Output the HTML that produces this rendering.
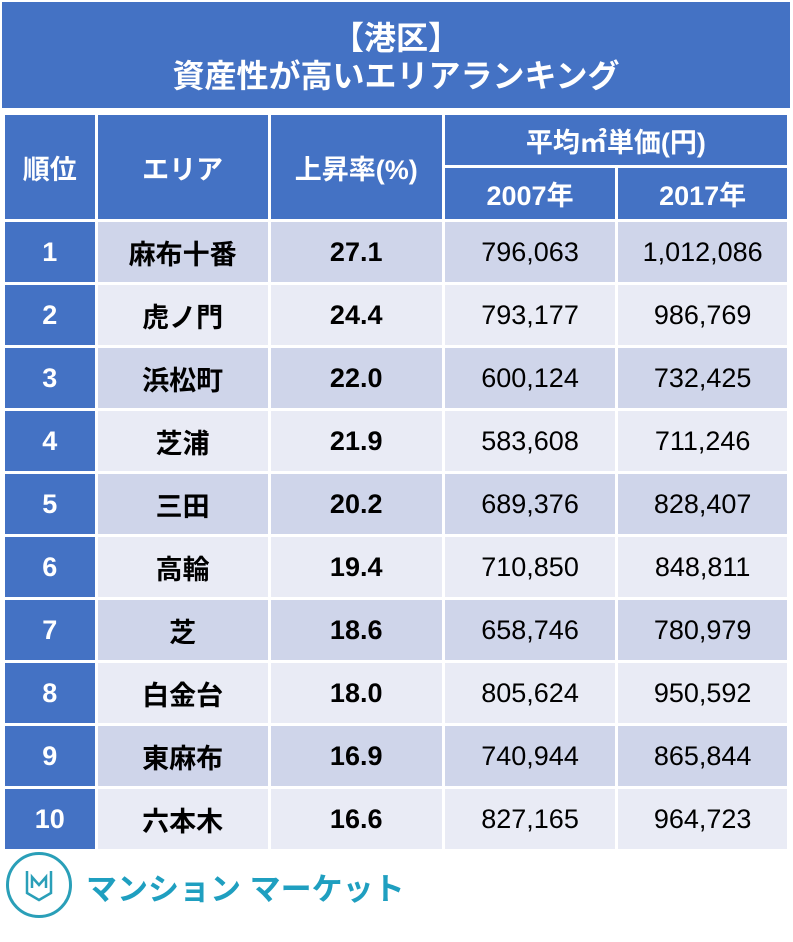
<!DOCTYPE html>
<html><head><meta charset="utf-8"><style>
body{margin:0;width:793px;height:942px;background:#fff;font-family:"Liberation Sans","Noto Sans CJK JP",sans-serif;position:relative;overflow:hidden}
.title{position:absolute;left:2px;top:2px;width:788px;height:106px;background:#4472c4;color:#fff;text-align:center;font-weight:bold;font-size:32px;line-height:38px;padding-top:17px;box-sizing:border-box}
table{position:absolute;left:2px;top:112px;border-collapse:collapse;width:788px}
td{border:3px solid #fff;text-align:center;font-size:27px;padding:0}
.h{background:#4472c4;color:#fff;font-weight:bold}
.r td{height:60px}
.r td.n{background:#4472c4;color:#fff;font-weight:bold}
.o td{background:#cfd5ea}.e td{background:#e9ebf5}
.b{font-weight:bold}
.logo{position:absolute;left:6px;top:852px;width:66px;height:66px;border:3px solid #2a9fb8;border-radius:50%;box-sizing:border-box}
.lt{position:absolute;left:86px;top:864px;font-size:31px;font-weight:bold;color:#1f9fc0}
</style></head><body>
<div class="title">【港区】<br>資産性が高いエリアランキング</div>
<table>
<colgroup><col style="width:93px"><col style="width:174px"><col style="width:175px"><col style="width:174px"><col style="width:172px"></colgroup>
<tr class="h"><td rowspan="2" class="h">順位</td><td rowspan="2" class="h">エリア</td><td rowspan="2" class="h">上昇率(%)</td><td colspan="2" class="h" style="height:50px">平均㎡単価(円)</td></tr>
<tr class="h"><td class="h" style="height:51px">2007年</td><td class="h">2017年</td></tr>
<tr class="r o"><td class="n">1</td><td class="b">麻布十番</td><td class="b">27.1</td><td>796,063</td><td>1,012,086</td></tr>
<tr class="r e"><td class="n">2</td><td class="b">虎ノ門</td><td class="b">24.4</td><td>793,177</td><td>986,769</td></tr>
<tr class="r o"><td class="n">3</td><td class="b">浜松町</td><td class="b">22.0</td><td>600,124</td><td>732,425</td></tr>
<tr class="r e"><td class="n">4</td><td class="b">芝浦</td><td class="b">21.9</td><td>583,608</td><td>711,246</td></tr>
<tr class="r o"><td class="n">5</td><td class="b">三田</td><td class="b">20.2</td><td>689,376</td><td>828,407</td></tr>
<tr class="r e"><td class="n">6</td><td class="b">高輪</td><td class="b">19.4</td><td>710,850</td><td>848,811</td></tr>
<tr class="r o"><td class="n">7</td><td class="b">芝</td><td class="b">18.6</td><td>658,746</td><td>780,979</td></tr>
<tr class="r e"><td class="n">8</td><td class="b">白金台</td><td class="b">18.0</td><td>805,624</td><td>950,592</td></tr>
<tr class="r o"><td class="n">9</td><td class="b">東麻布</td><td class="b">16.9</td><td>740,944</td><td>865,844</td></tr>
<tr class="r e"><td class="n">10</td><td class="b">六本木</td><td class="b">16.6</td><td>827,165</td><td>964,723</td></tr>
</table>
<div class="logo"><svg width="60" height="60" style="position:absolute;left:0;top:0"><path d="M18 16 V38 L30 45 L42 38 V16" fill="none" stroke="#2a9fb8" stroke-width="2.5"/><path d="M23 33 V22 L30 30 L37 22 V33" fill="none" stroke="#2a9fb8" stroke-width="2.5"/></svg></div>
<div class="lt">マンション マーケット</div>
</body></html>
